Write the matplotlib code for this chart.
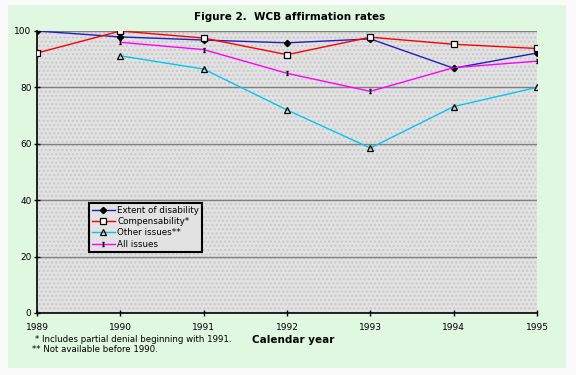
import matplotlib
matplotlib.use("Agg")
import matplotlib.pyplot as plt
from matplotlib.patches import Rectangle
from matplotlib.path import Path
import numpy as np

years = [1989, 1990, 1991, 1992, 1993, 1994, 1995]
extent = [100, 97.9, 96.8, 95.8, 97.2, 86.8, 92.2]
compens = [92.2, 100, 97.5, 91.6, 97.8, 95.3, 93.8]
other_years = [1990, 1991, 1992, 1993, 1994, 1995]
other = [91.2, 86.5, 72.0, 58.5, 73.2, 80.0]
all_years = [1990, 1991, 1992, 1993, 1994, 1995]
all_issues = [96.0, 93.4, 85.0, 78.6, 87.0, 89.3]

yticks = [0, 20, 40, 60, 80, 100]

fig = plt.figure(figsize=(5.76, 3.75), dpi=100)
fig.patch.set_facecolor("#fafafa")
fig.patches.append(Rectangle((8/576, 1-368/375), 558/576, 363/375,
                             transform=fig.transFigure, facecolor="#e0f8e0",
                             edgecolor="none", zorder=-10))

ax = fig.add_axes([37/576, 1-313/375, 500/576, 282/375])
ax.set_facecolor("#e2e2e2")
ax.patch.set_hatch("....")
ax.patch.set_edgecolor("#c8c8c8")
ax.patch.set_linewidth(0)

ibeam = Path([(-0.5, 1), (0.5, 1), (0, 1), (0, -1), (-0.5, -1), (0.5, -1)],
             [Path.MOVETO, Path.LINETO, Path.MOVETO, Path.LINETO, Path.MOVETO, Path.LINETO])

ax.plot(years, extent, color="#2020c0", lw=1, marker="D", ms=3.2,
        mfc="black", mec="black", label="Extent of disability", zorder=5)
ax.plot(years, compens, color="#ff0000", lw=1, marker="s", ms=3.8,
        mfc="white", mec="black", mew=0.9, label="Compensability*", zorder=5)
ax.plot(other_years, other, color="#00c8f0", lw=1, marker="^", ms=3.8,
        mfc="none", mec="black", mew=0.9, label="Other issues**", zorder=5)
ax.plot(all_years, all_issues, color="#ff00ff", lw=1, marker=ibeam, ms=3.5,
        mfc="black", mec="black", mew=1, label="All issues", zorder=5)

ax.set_xlim(1989, 1995)
ax.set_ylim(0, 100)
ax.set_yticks(yticks)
ax.set_xticks(years)
ax.set_xticklabels([str(y) for y in years])
for y in yticks[1:]:
    ax.axhline(y, color="#808080", lw=1, zorder=1)
for s in ["top", "right"]:
    ax.spines[s].set_visible(False)
ax.spines["left"].set_color("black")
ax.spines["bottom"].set_color("black")
ax.spines["left"].set_linewidth(1.2)
ax.spines["bottom"].set_linewidth(1.2)
ax.tick_params(direction="inout", length=4, width=1, labelsize=6.5, pad=2)
ax.tick_params(axis="x", pad=5)

leg = ax.legend(loc="upper left", bbox_to_anchor=(52/500, 1-(203-31)/282),
                fontsize=6.3, frameon=True, fancybox=False, framealpha=1,
                facecolor="#e2e2e2", edgecolor="black", borderpad=0.35,
                labelspacing=0.25, handlelength=2.6, handletextpad=0.3,
                borderaxespad=0)
leg.get_frame().set_linewidth(1.5)

fig.text(290/576, 1-17/375, "Figure 2.  WCB affirmation rates", ha="center",
         va="center", fontsize=7.5, fontweight="bold")
fig.text(293/576, 1-340/375, "Calendar year", ha="center", va="center",
         fontsize=7.5, fontweight="bold")
fig.text(35/576, 1-339/375, "* Includes partial denial beginning with 1991.",
         ha="left", va="center", fontsize=6.2)
fig.text(32/576, 1-350/375, "** Not available before 1990.",
         ha="left", va="center", fontsize=6.2)

fig.savefig("out.png", dpi=100, facecolor=fig.get_facecolor())
